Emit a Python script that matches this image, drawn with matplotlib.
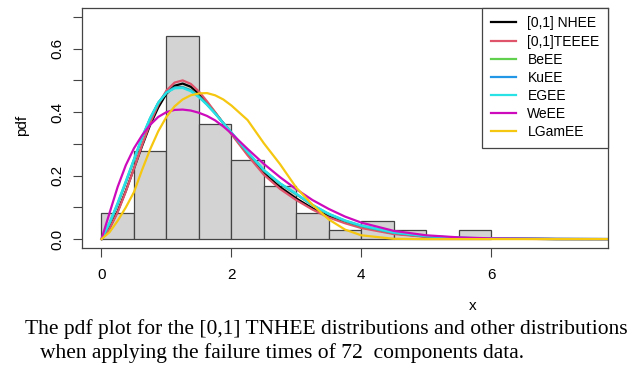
import numpy as np
import matplotlib
matplotlib.use('Agg')
import matplotlib.pyplot as plt

# failure times of 72 components: histogram counts per 0.5 bin
bin_edges = [0, 0.5, 1, 1.5, 2, 2.5, 3, 3.5, 4, 4.5, 5, 5.5, 6]
counts = [3, 10, 23, 13, 9, 6, 3, 1, 2, 1, 0, 1]
n_obs = 72

# fitted pdf curves
x_pts = [0, 0.125, 0.25, 0.375, 0.5, 0.625, 0.75, 0.875, 1.0, 1.125, 1.25, 1.375,
         1.5, 1.625, 1.75, 1.875, 2.0, 2.25, 2.5, 2.75, 3.0, 3.25, 3.5, 3.75, 4.0,
         4.5, 5.0, 5.5, 6.0, 7.0, 7.8]
pdf_nhee = [0, .035, .088, .152, .222, .293, .360, .415, .458, .483, .490, .480,
            .458, .430, .398, .365, .333, .268, .208, .164, .128, .097, .072, .053, .038,
            .018, .008, .0035, .0015, .0003, .0001]
pdf_teeee = [0, .033, .085, .150, .222, .296, .366, .424, .468, .493, .500, .489,
             .465, .434, .400, .365, .331, .264, .203, .158, .123, .093, .068, .050, .035,
             .016, .007, .003, .0012, .0002, 0]
pdf_beee = [0, .049, .110, .178, .248, .318, .380, .429, .462, .477, .479, .469,
            .450, .425, .397, .366, .335, .273, .216, .174, .141, .106, .078, .057, .041,
            .020, .009, .004, .0017, .0003, .0001]
pdf_kuee = [0, .050, .112, .180, .250, .320, .381, .430, .462, .477, .478, .468,
            .449, .424, .396, .366, .336, .274, .217, .175, .142, .107, .079, .058, .042,
            .020, .009, .004, .0018, .0003, .0001]
pdf_egee = [0, .052, .115, .183, .252, .322, .382, .430, .461, .475, .476, .466,
            .447, .423, .395, .365, .336, .275, .218, .176, .143, .108, .080, .059, .043,
            .021, .010, .0045, .002, .0004, .0001]
pdf_weee = [0, .083, .165, .233, .286, .327, .360, .385, .400, .407, .408, .405,
            .398, .388, .374, .355, .333, .284, .237, .195, .157, .123, .095, .071, .052,
            .026, .012, .0055, .0023, .0004, .0001]
pdf_lgamee = [0, .022, .058, .100, .148, .218, .283, .340, .385, .418, .440, .453,
              .459, .460, .453, .440, .421, .375, .302, .236, .162, .108, .062, .030, .012,
              .001, 0, 0, 0, 0, 0]

labels = ['[0,1] NHEE', '[0,1]TEEEE', 'BeEE', 'KuEE', 'EGEE', 'WeEE', 'LGamEE']
colores = ['#000000', '#DF536B', '#61D04F', '#2297E6', '#28E2E5', '#CD0BBC', '#F5C710']
curvas = [pdf_nhee, pdf_teeee, pdf_beee, pdf_kuee, pdf_egee, pdf_weee, pdf_lgamee]

plt.rcParams['font.family'] = 'Liberation Sans'

fig = plt.figure(figsize=(6.31, 3.75), dpi=100)
ax = fig.add_axes([82 / 631, 1 - 248 / 375, 526 / 631, 240 / 375])

# histograma (densidade)
larguras = np.diff(bin_edges)
dens = np.array(counts) / (n_obs * larguras)
ax.bar(bin_edges[:-1], dens, width=larguras, align='edge', color='#D3D3D3',
       edgecolor='#444444', linewidth=0.9, zorder=1)

for y, lab, c in zip(curvas, labels, colores):
    ax.plot(x_pts, y, color=c, lw=1.6, label=lab, zorder=2)

ax.set_xlim(-0.3, 7.8)
ax.set_ylim(-0.028, 0.728)
ax.set_xticks([0, 2, 4, 6])
ax.set_yticks([0, 0.1, 0.2, 0.3, 0.4, 0.5, 0.6, 0.7])
ax.set_yticklabels(['0.0', '', '0.2', '', '0.4', '', '0.6', ''], rotation=90, va='center')
ax.tick_params(direction='out', length=6.5, width=0.8, color='#444444', labelsize=11)
ax.tick_params(axis='x', pad=8)
ax.tick_params(axis='y', pad=6)
for s in ax.spines.values():
    s.set_color('#444444')
    s.set_linewidth(0.9)

leg = ax.legend(loc='upper right', bbox_to_anchor=(1, 1), borderaxespad=0,
                fontsize=10, frameon=True, fancybox=False, framealpha=1,
                edgecolor='#444444', handlelength=1.8, handletextpad=0.85,
                labelspacing=0.3, borderpad=0.6)
leg.get_frame().set_linewidth(0.9)

fig.text(22 / 631, 1 - 125 / 375, 'pdf', rotation=90, ha='center', va='center', fontsize=11)
fig.text(473 / 631, 1 - 306 / 375, 'x', ha='center', va='center', fontsize=11)

fig.text(25 / 631, 1 - 329 / 375,
         'The pdf plot for the [0,1] TNHEE distributions and other distributions',
         ha='left', va='center', fontsize=15.5, family='Liberation Serif')
fig.text(40 / 631, 1 - 353 / 375,
         'when applying the failure times of 72  components data.',
         ha='left', va='center', fontsize=15.5, family='Liberation Serif')

fig.savefig('out.png', dpi=100)
